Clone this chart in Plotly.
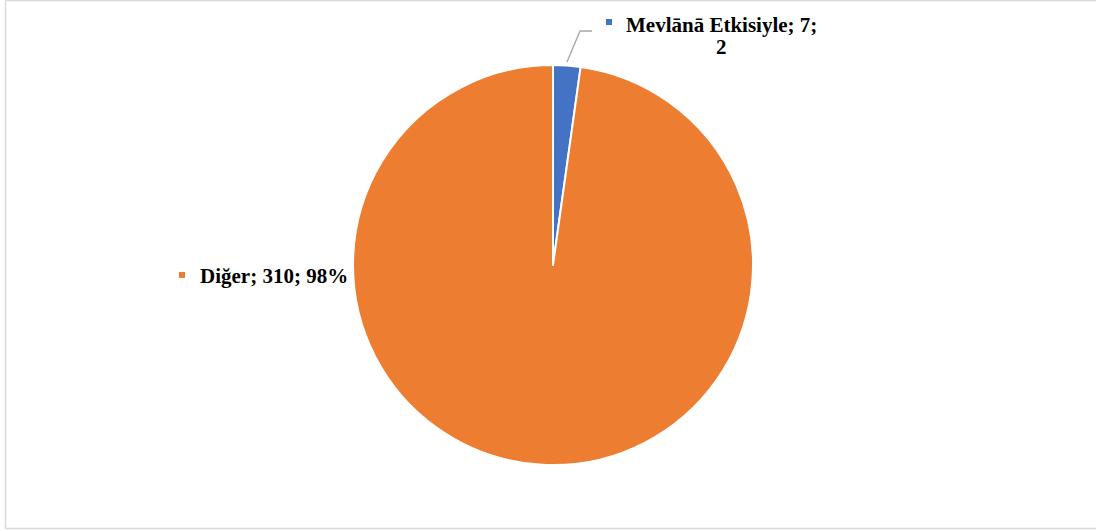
import plotly.graph_objects as go

# Data
labels = ["Mevlānā Etkisiyle", "Diğer"]
values = [7, 310]
pct_text = ["2", "98%"]
colors = ["#4472C4", "#ED7D31"]

W, H = 1096, 531
FONT = "Liberation Serif, Times New Roman, serif"
FS = 21

fig = go.Figure(
    go.Pie(
        labels=labels,
        values=values,
        sort=False,
        direction="clockwise",
        rotation=0,
        marker=dict(colors=colors, line=dict(color="white", width=2)),
        textinfo="none",
        hoverinfo="label+value+percent",
        showlegend=False,
        domain=dict(x=[353 / W, 753 / W], y=[(H - 465) / H, (H - 65) / H]),
    )
)

def px(x):
    return x / W

def py(y):
    return 1 - y / H

annotations = []
shapes = []

# Outer frame
shapes.append(dict(type="rect", xref="paper", yref="paper",
                   x0=px(5.5), x1=px(1100), y0=py(528.5), y1=py(0.5),
                   line=dict(color="#D9D9D9", width=1.5), fillcolor="rgba(0,0,0,0)"))

# Leader line for the small slice
shapes.append(dict(type="path", xref="paper", yref="paper",
                   path=f"M {px(567)} {py(62)} L {px(580)} {py(31)} L {px(592)} {py(31)}",
                   line=dict(color="#A6A6A6", width=1.3)))

# Legend-key squares beside the labels
for (cx, cy), col in [((609, 22), colors[0]), ((182, 275), colors[1])]:
    shapes.append(dict(type="rect", xref="paper", yref="paper",
                       x0=px(cx - 3), x1=px(cx + 3), y0=py(cy + 3), y1=py(cy - 3),
                       line=dict(width=0), fillcolor=col))

label_font = dict(family=FONT, size=FS, color="#000000")

# Small-slice label, two lines set tightly
annotations.append(dict(
    x=px(722), y=py(24.5), xref="paper", yref="paper",
    text=f"<b>{labels[0]}; {values[0]};</b>",
    showarrow=False, xanchor="center", yanchor="middle", font=label_font,
))
annotations.append(dict(
    x=px(722), y=py(47), xref="paper", yref="paper",
    text=f"<b>{pct_text[0]}</b>",
    showarrow=False, xanchor="center", yanchor="middle", font=label_font,
))
annotations.append(dict(
    x=px(198), y=py(276), xref="paper", yref="paper",
    text=f"<b>{labels[1]}; {values[1]}; {pct_text[1]}</b>",
    showarrow=False, align="left", xanchor="left", yanchor="middle", font=label_font,
))

fig.update_layout(
    width=W, height=H,
    margin=dict(l=0, r=0, t=0, b=0),
    paper_bgcolor="white",
    plot_bgcolor="white",
    shapes=shapes,
    annotations=annotations,
    font=dict(family=FONT),
)

fig.write_html("out.html")
